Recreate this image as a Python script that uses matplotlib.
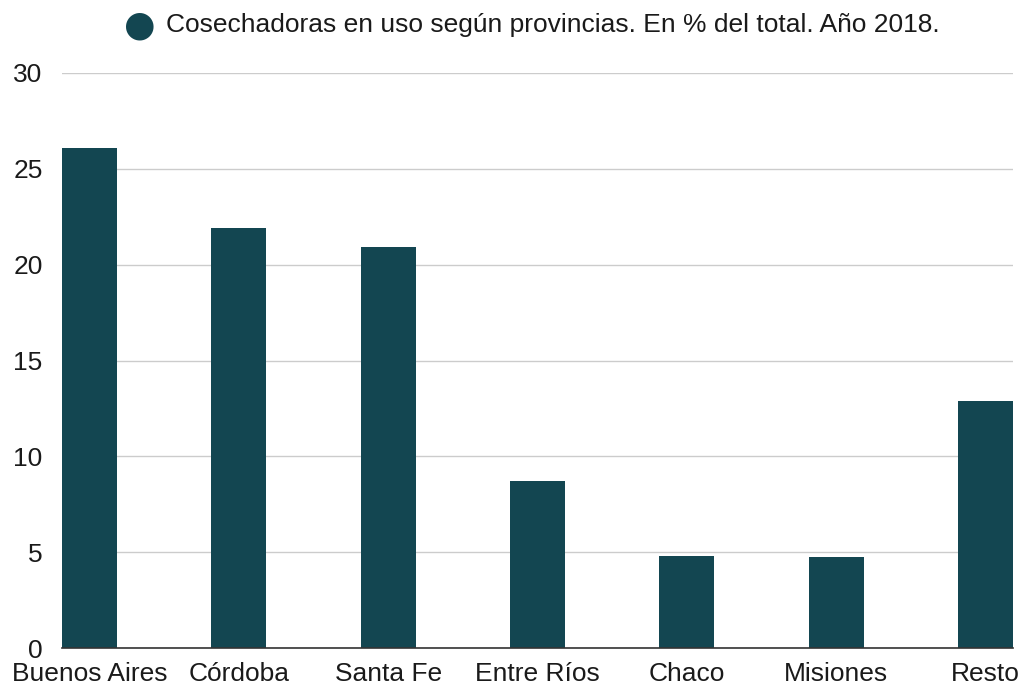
import matplotlib.pyplot as plt
import numpy as np

plt.rcParams['font.family'] = ['Liberation Sans', 'DejaVu Sans']

provincias = ['Buenos Aires', 'Córdoba', 'Santa Fe', 'Entre Ríos', 'Chaco', 'Misiones', 'Resto']
porcentaje = [26.1, 21.9, 20.9, 8.7, 4.8, 4.75, 12.9]
titulo = 'Cosechadoras en uso según provincias. En % del total. Año 2018.'
color = '#134651'

fig = plt.figure(figsize=(10.24, 6.85), dpi=100)
ax = fig.add_axes([62 / 1024, 1 - 648 / 685, (1013 - 62) / 1024, (648 - 73) / 685])

x = np.arange(len(provincias))
ax.bar(x, porcentaje, width=0.368, color=color, zorder=3)

ax.set_xlim(-0.184, len(provincias) - 1 + 0.184)
ax.set_ylim(0, 30)
ax.set_yticks([0, 5, 10, 15, 20, 25, 30])
ax.set_xticks(x)
ax.set_xticklabels(provincias)
ax.tick_params(axis='both', length=0, labelsize=19, colors='#1a1a1a')
ax.tick_params(axis='y', pad=14)
ax.tick_params(axis='x', pad=10)

ax.grid(axis='y', color='#cccccc', linewidth=1, zorder=0)
for s in ['top', 'right', 'left']:
    ax.spines[s].set_visible(False)
ax.spines['bottom'].set_color('#333333')
ax.spines['bottom'].set_linewidth(1.2)
ax.spines['bottom'].set_zorder(4)

# legend-like title
fig.text(140 / 1024, 1 - 25 / 685, '\u25cf', fontsize=26, color=color,
         ha='center', va='center', family='DejaVu Sans')
fig.text(166 / 1024, 1 - 25 / 685, titulo, fontsize=19, color='#1a1a1a',
         ha='left', va='center')

plt.savefig('out.png', dpi=100)
